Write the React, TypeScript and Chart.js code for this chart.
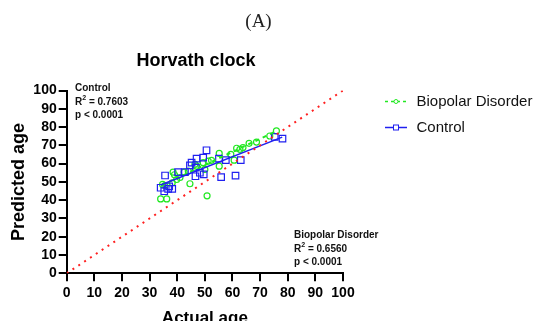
import React, { useEffect, useRef } from "react";
import { Chart, registerables } from "chart.js";

Chart.register(...registerables);

// ---- data ----
const controlActual = [34.0, 35.3, 36.7, 38.2, 35.6, 40.3, 42.8, 44.6, 45.2, 47.0, 49.4, 50.6, 55.1, 57.6, 63.0, 46.6, 48.2, 49.6, 46.7, 55.9, 61.1, 75.3, 78.1, 37.1];
const controlPredicted = [46.8, 44.9, 46.2, 46.2, 53.5, 55.3, 55.3, 59.0, 60.5, 62.7, 63.3, 67.3, 62.7, 61.9, 61.9, 53.1, 55.0, 54.1, 57.8, 52.6, 53.4, 74.6, 73.7, 47.6];
const bipolarActual = [34.0, 36.2, 50.8, 38.5, 39.0, 42.5, 44.6, 46.4, 49.4, 51.2, 52.4, 55.2, 55.2, 60.6, 61.5, 62.7, 66.0, 68.7, 73.5, 75.9, 34.7, 35.5, 38.2, 39.8, 44.0, 50.0, 47.0, 59.4, 63.8, 41.0];
const bipolarPredicted = [40.7, 40.7, 42.4, 55.3, 53.9, 55.3, 49.0, 59.6, 60.5, 61.4, 61.8, 65.6, 58.6, 61.9, 68.4, 67.8, 71.1, 71.8, 75.1, 77.9, 48.6, 48.0, 49.5, 51.3, 55.9, 56.8, 58.6, 65.1, 68.8, 52.4];

const controlFitX = [34, 78];
const controlFitY = [48.3, 74.5];
const bipolarFitX = [34.3, 75.5];
const bipolarFitY = [48.0, 77.5];
const identityX = [0, 100];
const identityY = [0, 100];

const seriesNames = ["Biopolar Disorder", "Control"];
const controlStats = ["Control", "0.7603", "< 0.0001"];
const bipolarStats = ["Biopolar Disorder", "0.6560", "< 0.0001"];
const chartTitle = "Horvath clock";
const panelLabel = "(A)";
const xTitle = "Actual age";
const yTitle = "Predicted age";
const axisMin = 0;
const axisMax = 100;
const axisStep = 10;

const GREEN = "#22e822";
const BLUE = "#2020f0";
const SANS = '"Liberation Sans", Arial, sans-serif';

const zip = (xs: number[], ys: number[]) => xs.map((x, i) => ({ x, y: ys[i] }));

function drawStats(ctx: CanvasRenderingContext2D, x: number, y: number, lines: string[]) {
  ctx.save();
  ctx.fillStyle = "#111";
  ctx.textBaseline = "middle";
  ctx.textAlign = "left";
  ctx.font = `bold 10px ${SANS}`;
  ctx.fillText(lines[0], x, y);
  const y2 = y + 14;
  ctx.fillText("R", x, y2);
  const rw = ctx.measureText("R").width;
  ctx.font = `bold 7px ${SANS}`;
  ctx.fillText("2", x + rw, y2 - 4);
  const sw = ctx.measureText("2").width;
  ctx.font = `bold 10px ${SANS}`;
  ctx.fillText(" = " + lines[1], x + rw + sw, y2);
  ctx.fillText("p " + lines[2], x, y2 + 13);
  ctx.restore();
}

const decorPlugin = {
  id: "decor",
  afterDraw(chart: any) {
    const ctx: CanvasRenderingContext2D = chart.ctx;
    ctx.save();
    ctx.fillStyle = "#222";
    ctx.textAlign = "center";
    ctx.textBaseline = "middle";
    ctx.font = `19px "Liberation Serif", "DejaVu Serif", serif`;
    ctx.fillText(panelLabel, 258.5, 22);
    ctx.fillStyle = "#000";
    ctx.font = `bold 18px ${SANS}`;
    ctx.fillText(chartTitle, 196, 61);
    const items = [
      { label: seriesNames[0], color: GREEN, dash: [3, 3], style: "circle", y: 101.5 },
      { label: seriesNames[1], color: BLUE, dash: [], style: "rect", y: 127.5 },
    ];
    items.forEach((it) => {
      ctx.save();
      ctx.strokeStyle = it.color;
      ctx.lineWidth = 1.5;
      ctx.setLineDash(it.dash);
      ctx.beginPath();
      ctx.moveTo(385, it.y);
      ctx.lineTo(407, it.y);
      ctx.stroke();
      ctx.setLineDash([]);
      ctx.lineWidth = 1;
      ctx.fillStyle = "#fff";
      if (it.style === "circle") {
        ctx.beginPath();
        ctx.arc(396, it.y, 2, 0, Math.PI * 2);
        ctx.fill();
        ctx.stroke();
      } else {
        ctx.fillRect(393.5, it.y - 2.5, 5, 5);
        ctx.strokeRect(393.5, it.y - 2.5, 5, 5);
      }
      ctx.restore();
      ctx.fillStyle = "#111";
      ctx.textAlign = "left";
      ctx.textBaseline = "middle";
      ctx.font = `15px ${SANS}`;
      ctx.fillText(it.label, 416.5, it.y);
    });
    ctx.restore();
    drawStats(ctx, 75, 88.5, controlStats);
    drawStats(ctx, 294, 235, bipolarStats);
  },
};

export default function App() {
  const ref = useRef<HTMLCanvasElement | null>(null);
  useEffect(() => {
    if (!ref.current) return;
    const chart = new Chart(ref.current, {
      type: "scatter",
      data: {
        datasets: [
          {
            label: "identity",
            type: "line",
            data: zip(identityX, identityY),
            borderColor: "#ff2020",
            borderWidth: 2,
            borderDash: [2, 5],
            pointRadius: 0,
            fill: false,
          } as any,
          {
            label: seriesNames[1] + " fit",
            type: "line",
            data: zip(controlFitX, controlFitY),
            borderColor: BLUE,
            borderWidth: 1.5,
            pointRadius: 0,
            fill: false,
          } as any,
          {
            label: seriesNames[0] + " fit",
            type: "line",
            data: zip(bipolarFitX, bipolarFitY),
            borderColor: GREEN,
            borderWidth: 2,
            borderDash: [4, 4],
            pointRadius: 0,
            fill: false,
          } as any,
          {
            label: seriesNames[1],
            data: zip(controlActual, controlPredicted),
            pointStyle: "rect",
            pointRadius: 4.6,
            borderColor: BLUE,
            borderWidth: 1.2,
            backgroundColor: "rgba(0,0,0,0)",
          },
          {
            label: seriesNames[0],
            data: zip(bipolarActual, bipolarPredicted),
            pointStyle: "circle",
            pointRadius: 3,
            borderColor: GREEN,
            borderWidth: 1.2,
            backgroundColor: "rgba(0,0,0,0)",
          },
        ],
      },
      options: {
        responsive: false,
        animation: false,
        devicePixelRatio: 1,
        layout: { padding: { top: 90.5, right: 204, left: 0, bottom: 0 } },
        plugins: { legend: { display: false }, tooltip: { enabled: false }, title: { display: false } },
        scales: {
          x: {
            type: "linear",
            min: axisMin,
            max: axisMax,
            afterFit: (s: any) => {
              s.height = 47.7;
            },
            ticks: { stepSize: axisStep, autoSkip: false, color: "#000", padding: 3, maxRotation: 0, font: { family: SANS, size: 14, weight: "bold" } },
            grid: { display: true, drawOnChartArea: false, drawTicks: true, tickLength: 8, color: "#000", lineWidth: 2 },
            border: { display: true, color: "#000", width: 2 },
            title: { display: true, text: xTitle, color: "#000", font: { family: SANS, size: 17, weight: "bold" }, padding: { top: 0, bottom: -8 } },
          },
          y: {
            type: "linear",
            min: axisMin,
            max: axisMax,
            afterFit: (s: any) => {
              s.width = 66.7;
            },
            ticks: { stepSize: axisStep, autoSkip: false, color: "#000", padding: 2, font: { family: SANS, size: 14, weight: "bold" } },
            grid: { display: true, drawOnChartArea: false, drawTicks: true, tickLength: 8, color: "#000", lineWidth: 2 },
            border: { display: true, color: "#000", width: 2 },
            title: { display: true, text: yTitle, color: "#000", font: { family: SANS, size: 18, weight: "bold" }, padding: { top: 8, bottom: 0 } },
          },
        },
      } as any,
      plugins: [decorPlugin],
    });
    return () => chart.destroy();
  }, []);
  return (
    <div style={{ position: "absolute", left: 0, top: 0, width: 547, height: 321, background: "#fff" }}>
      <canvas ref={ref} width={547} height={321} style={{ display: "block", width: 547, height: 321 }} />
    </div>
  );
}
